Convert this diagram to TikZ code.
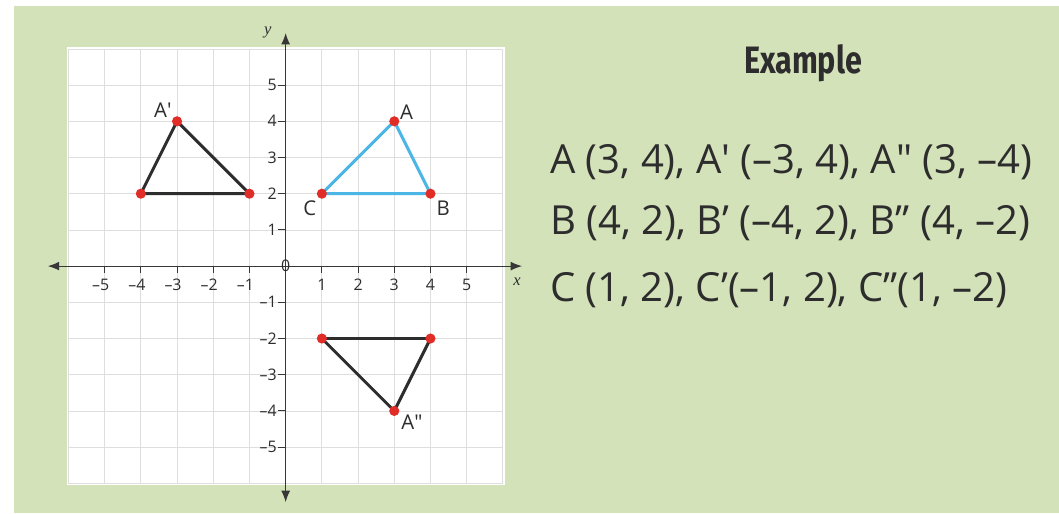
\documentclass[tikz,border=0pt]{standalone}
\usepackage{fontspec}
\setmainfont{Open Sans}
\newfontfamily\headfont{Fira Sans}
\newfontfamily\axisfont{Liberation Serif}
\usetikzlibrary{arrows.meta}
\definecolor{pagegreen}{RGB}{212,226,186}
\definecolor{gridgray}{RGB}{222,222,222}
\definecolor{axisgray}{RGB}{55,55,55}
\definecolor{imageblue}{RGB}{75,182,230}
\definecolor{pointred}{RGB}{225,45,40}
\definecolor{textgray}{RGB}{45,45,45}

\begin{document}
\begin{tikzpicture}[>={Latex[length=9pt,width=7pt]},
 axis/.style={axisgray,line width=0.9pt,<->},
 tickmark/.style={axisgray,line width=0.7pt},
 ticklabel/.style={font=\fontsize{12.5}{12.5}\selectfont,text=textgray,inner sep=0pt},
 ptlabel/.style={font=\fontsize{16}{16}\selectfont,text=textgray,inner sep=0pt},
 side/.style={line width=2.3pt,line join=round,line cap=round},
 coordtext/.style={font=\fontsize{31.5}{31.5}\selectfont,text=textgray,anchor=base west,inner sep=0pt}]
 % page and panel
 \useasboundingbox (-7.89,-6.82) rectangle (21.36,7.35);
 \fill[white] (-7.89,-6.82) rectangle (21.36,7.35);
 \fill[pagegreen] (-7.5,-6.82) rectangle (21.36,7.18);
 \fill[white] (-6.05,-6.05) rectangle (6.05,6.05);
 \draw[gridgray,line width=0.6pt] (-6,-6) grid (6,6);
 % axes
 \draw[axis] (-6.57,0) -- (6.53,0);
 \draw[axis] (0,-6.52) -- (0,6.44);
 \node[font=\axisfont\itshape\fontsize{13}{13}\selectfont,text=textgray] (xlab) at (6.39,-0.44) {x};
 \node[font=\axisfont\itshape\fontsize{13}{13}\selectfont,text=textgray] (ylab) at (-0.49,6.44) {y};
 \node[ticklabel] (zero) at (0,0.02) {0};
 \foreach \k in {1,...,5} {
   \draw[tickmark] (\k,0) -- (\k,-0.2);
   \draw[tickmark] (-\k,0) -- (-\k,-0.2);
   \draw[tickmark] (0,\k) -- (-0.2,\k);
   \draw[tickmark] (0,-\k) -- (-0.2,-\k);
   \node[ticklabel,anchor=north] (xp\k) at (\k,-0.36) {\k};
   \node[ticklabel,anchor=north] (xm\k) at (-\k,-0.36) {\llap{–}\k};
   \node[ticklabel,anchor=east] (yp\k) at (-0.24,\k) {\k};
   \node[ticklabel,anchor=east] (ym\k) at (-0.24,-\k) {–\k};
 }
 % triangles
 \coordinate (A) at (3,4);
 \coordinate (B) at (4,2);
 \coordinate (C) at (1,2);
 \coordinate (A1) at (-3,4);
 \coordinate (B1) at (-4,2);
 \coordinate (C1) at (-1,2);
 \coordinate (A2) at (3,-4);
 \coordinate (B2) at (4,-2);
 \coordinate (C2) at (1,-2);
 \draw[side,imageblue] (A) -- (B) -- (C) -- cycle;
 \draw[side,textgray] (A1) -- (B1) -- (C1) -- cycle;
 \draw[side,textgray] (A2) -- (B2) -- (C2) -- cycle;
 \foreach \p in {A,B,C,A1,B1,C1,A2,B2,C2}
   \fill[pointred] (\p) circle (0.14);
 \node[ptlabel] (Alab) at (3.34,4.26) {A};
 \node[ptlabel] (Blab) at (4.35,1.60) {B};
 \node[ptlabel] (Clab) at (0.67,1.60) {C};
 \node[ptlabel] (A1lab) at (-3.39,4.31) {A\textquotesingle};
 \node[ptlabel] (A2lab) at (3.49,-4.31) {A\textquotedbl};
 % worked example
 \node[font=\headfont\bfseries\fontsize{30}{30}\selectfont,text=textgray] (head) at (14.29,5.61) {\scalebox{0.8}[1]{Example}};
 \node[coordtext] (rowA) at (7.30,2.57) {A (3, 4), A\textquotesingle{} (–3, 4), A\textquotedbl{} (3, –4)};
 \node[coordtext] (rowB) at (7.30,0.86) {B (4, 2), B' (–4, 2), B'' (4, –2)};
 \node[coordtext] (rowC) at (7.30,-0.99) {C (1, 2), C'(–1, 2), C''(1, –2)};
\end{tikzpicture}
\end{document}
